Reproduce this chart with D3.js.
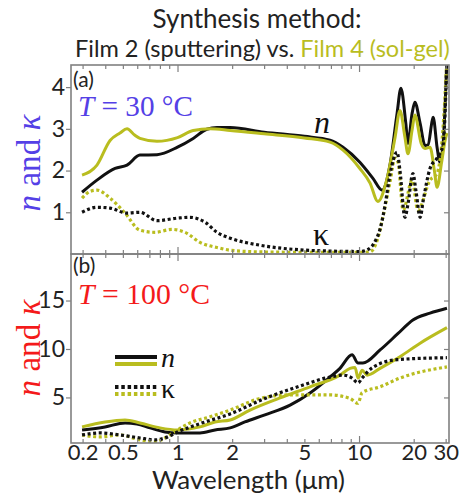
<!DOCTYPE html>
<html><head><meta charset="utf-8">
<script src="https://cdn.jsdelivr.net/npm/d3@7"></script>
<style>body{margin:0;background:#fff}</style>
</head><body>
<svg id="chart" width="460" height="496"></svg>
<script>
// [wavelength (µm), value] pairs
// (a) T = 30 °C
const n30Film2 = [[0.298,1.48],[0.36,1.77],[0.453,2.05],[0.527,2.13],[0.621,2.37],[0.771,2.38],[1.0,2.56],[1.22,2.77],[1.45,2.99],[1.65,3.03],[1.95,3.03],[3.0,2.92],[5.0,2.82],[6.92,2.73],[8.16,2.56],[10.1,2.2],[11.9,1.82],[13.4,1.53],[14.8,2.13],[16.2,3.37],[17.0,3.97],[18.1,3.13],[18.6,2.65],[19.6,3.37],[20.3,3.64],[21.7,3.13],[23.1,2.6],[24.0,2.62],[25.3,3.2],[25.6,3.28],[26.9,2.56],[27.9,2.2],[29.0,2.6],[30.5,4.7]];
const n30Film4 = [[0.298,1.89],[0.36,2.13],[0.425,2.72],[0.482,2.9],[0.527,3.0],[0.58,2.85],[0.621,2.77],[0.771,2.7],[1.0,2.79],[1.22,2.96],[1.51,3.0],[1.95,2.96],[3.0,2.88],[5.0,2.78],[6.92,2.68],[8.16,2.49],[10.1,2.05],[11.5,1.7],[12.7,1.26],[14.2,1.77],[15.8,2.8],[16.8,3.44],[17.9,2.8],[18.6,2.4],[19.6,2.97],[20.3,3.33],[22.0,2.65],[23.1,2.53],[24.6,2.56],[26.0,2.0],[26.9,1.6],[28.5,2.2],[29.8,2.73],[30.5,2.9]];
const k30Film2 = [[0.298,1.0],[0.36,1.12],[0.425,1.1],[0.527,0.98],[0.621,1.0],[0.771,0.8],[1.0,0.86],[1.17,0.88],[1.42,0.76],[1.65,0.52],[1.95,0.38],[2.85,0.21],[4.73,0.1],[6.92,0.07],[10.1,0.06],[11.07,0.1],[12.25,0.3],[13.06,0.6],[13.9,1.16],[14.8,1.9],[16.2,2.44],[16.8,2.0],[17.9,0.88],[18.6,1.2],[19.8,1.93],[20.6,1.5],[21.7,0.88],[22.6,1.3],[24.6,2.05],[26.9,2.3],[29.0,2.6],[30.5,4.7]];
const k30Film4 = [[0.298,1.34],[0.33,1.5],[0.36,1.53],[0.425,1.34],[0.514,0.98],[0.621,0.57],[0.751,0.52],[0.933,0.59],[1.1,0.52],[1.33,0.28],[1.71,0.14],[1.95,0.09],[2.85,0.05],[5.0,0.04],[10.0,0.04],[11.5,0.05],[12.7,0.38],[13.6,0.93],[14.8,1.72],[15.8,2.3],[16.4,2.2],[17.5,1.05],[19.6,1.77],[21.1,1.05],[24.6,1.77],[26.9,1.93],[29.0,3.0],[30.5,4.7]];
// (b) T = 100 °C
const n100Film2 = [[0.298,1.65],[0.399,1.96],[0.514,2.37],[0.598,2.27],[0.706,1.86],[0.853,1.44],[1.0,1.34],[1.33,1.34],[1.61,1.65],[1.95,1.86],[2.35,2.47],[3.03,3.2],[4.17,4.2],[5.37,5.46],[6.92,7.1],[7.85,8.0],[9.15,9.4],[9.87,8.55],[10.5,8.55],[13.06,9.9],[16.4,11.6],[19.8,13.0],[24.6,13.7],[30.5,14.2]];
const n100Film4 = [[0.298,1.96],[0.399,2.47],[0.514,2.68],[0.621,2.37],[0.801,1.86],[1.0,1.65],[1.33,1.96],[1.61,2.47],[1.95,2.68],[2.51,3.7],[3.67,4.95],[5.37,6.1],[7.85,7.3],[8.92,8.0],[9.51,8.1],[9.87,7.0],[10.4,7.8],[11.07,7.3],[13.06,8.0],[16.8,9.2],[21.7,10.6],[30.5,12.2]];
const k100Film2 = [[0.298,1.13],[0.374,1.34],[0.482,1.13],[0.621,0.82],[0.751,0.62],[0.853,0.82],[1.0,1.44],[1.33,2.3],[1.95,3.3],[3.03,4.9],[4.6,6.1],[6.92,7.1],[8.16,7.3],[9.15,7.0],[9.87,6.5],[10.4,7.0],[11.9,8.1],[16.2,8.9],[30.5,9.1]];
const k100Film4 = [[0.298,1.13],[0.374,0.93],[0.482,1.13],[0.621,0.62],[0.751,0.41],[0.853,0.82],[1.0,1.65],[1.17,2.37],[1.51,3.0],[1.95,3.7],[2.85,4.9],[4.17,5.26],[6.92,5.26],[8.92,4.9],[9.87,4.4],[10.4,5.5],[13.06,6.1],[16.8,7.0],[30.5,8.15]];

const xTickValues = [0.3, 0.5, 1, 2, 5, 10, 20, 30];
const xTickLabels = ["0.2", "0.5", "1", "2", "5", "10", "20", "30"];
const xMinorTicks = [0.3,0.4,0.5,0.6,0.7,0.8,0.9,2,3,4,5,6,7,8,9,20,30];
const xMajorTicks = [1, 10];
const yTicks30 = [1, 2, 3, 4];
const yTicks100 = [5, 10, 15];

const OLIVE = "#b9bd1f", BLACK = "#111111", FRAME = "#808080";
const BLUE = "#5440e6", RED = "#f41a1a";
const SANS = "Lato, 'Open Sans', sans-serif";
const SERIF = "'Liberation Serif', 'DejaVu Serif', serif";

const svg = d3.select("#chart");
const x = d3.scaleLog().domain([0.259, 31.3]).range([71, 449]);

const panels = [
  { key: "a", y: d3.scaleLinear().domain([0, 4.53]).range([254, 65]), ticks: yTicks30,
    series: [[n30Film2, BLACK, false], [n30Film4, OLIVE, false], [k30Film4, OLIVE, true], [k30Film2, BLACK, true]] },
  { key: "b", y: d3.scaleLinear().domain([0.3, 19.8]).range([443, 254]), ticks: yTicks100,
    series: [[n100Film2, BLACK, false], [n100Film4, OLIVE, false], [k100Film4, OLIVE, true], [k100Film2, BLACK, true]] }
];

function fit(sel, w) {
  const fs = parseFloat(sel.attr("font-size"));
  const len = sel.node().getComputedTextLength();
  sel.attr("font-size", (fs * w / len).toFixed(2));
  return sel;
}

panels.forEach(p => {
  const [x0, x1] = x.range();
  const [yb, yt] = p.y.range();
  svg.append("clipPath").attr("id", "clip-" + p.key)
    .append("rect").attr("x", x0).attr("y", yt).attr("width", x1 - x0).attr("height", yb - yt);

  const line = d3.line().x(d => x(d[0])).y(d => p.y(d[1])).curve(d3.curveMonotoneX);
  const g = svg.append("g").attr("clip-path", `url(#clip-${p.key})`);
  p.series.forEach(([data, color, dotted]) => {
    g.append("path").datum(data).attr("d", line)
      .attr("fill", "none").attr("stroke", color)
      .attr("stroke-width", dotted ? 3.2 : 3)
      .attr("stroke-dasharray", dotted ? "3,2.6" : null)
      .attr("stroke-linejoin", "round");
  });

  // x ticks, inward on bottom and top
  [[d3.axisBottom, yb], [d3.axisTop, yt]].forEach(([fn, yy]) => {
    const minor = svg.append("g").attr("transform", `translate(0,${yy})`)
      .call(fn(x).tickValues(xMinorTicks).tickSize(-4).tickFormat(""));
    const major = svg.append("g").attr("transform", `translate(0,${yy})`)
      .call(fn(x).tickValues(xMajorTicks).tickSize(-7).tickFormat(""));
    [minor, major].forEach(a => {
      a.select(".domain").remove();
      a.selectAll("line").attr("stroke", FRAME).attr("stroke-width", 1.2);
    });
  });

  // y ticks: outward on the left with labels, inward on the right
  const left = svg.append("g").attr("transform", `translate(${x0},0)`)
    .call(d3.axisLeft(p.y).tickValues(p.ticks).tickSize(5).tickPadding(1).tickFormat(d3.format("d")));
  left.select(".domain").remove();
  left.selectAll("line").attr("stroke", FRAME).attr("stroke-width", 1.2);
  left.selectAll("text").attr("font-family", SANS).attr("font-size", 23).attr("fill", "#222");
  const right = svg.append("g").attr("transform", `translate(${x1},0)`)
    .call(d3.axisRight(p.y).tickValues(p.ticks).tickSize(-5).tickFormat(""));
  right.select(".domain").remove();
  right.selectAll("line").attr("stroke", FRAME).attr("stroke-width", 1.2);

  svg.append("rect").attr("x", x0).attr("y", yt).attr("width", x1 - x0).attr("height", yb - yt)
    .attr("fill", "none").attr("stroke", FRAME).attr("stroke-width", 1.6);
});

// x tick labels
const xl = svg.append("g").attr("transform", "translate(0,443)")
  .call(d3.axisBottom(x).tickValues(xTickValues).tickSize(0).tickPadding(1)
    .tickFormat((d, i) => xTickLabels[i]));
xl.select(".domain").remove();
xl.selectAll("text").attr("font-family", SANS).attr("font-size", 22).attr("fill", "#222");

// titles
fit(svg.append("text").attr("x", 257).attr("y", 28).attr("text-anchor", "middle")
  .attr("font-family", SANS).attr("font-size", 25).attr("fill", "#222")
  .text("Synthesis method:"), 209);
const sub = svg.append("text").attr("x", 75).attr("y", 57)
  .attr("font-family", SANS).attr("font-size", 21).attr("fill", "#222");
sub.append("tspan").text("Film 2 (sputtering) vs. ");
sub.append("tspan").attr("fill", OLIVE).text("Film 4 (sol-gel)");
fit(sub, 375);

svg.append("text").attr("x", 152).attr("y", 489)
  .attr("font-family", SANS).attr("font-size", 25).attr("fill", "#222")
  .attr("textLength", 193).attr("lengthAdjust", "spacingAndGlyphs")
  .text("Wavelength (μm)");

// panel tags
svg.append("text").attr("x", 73).attr("y", 87).attr("font-family", SANS)
  .attr("font-size", 21).attr("fill", "#222").text("(a)");
svg.append("text").attr("x", 73).attr("y", 273).attr("font-family", SANS)
  .attr("font-size", 21).attr("fill", "#222").text("(b)");

// temperatures
function tempLabel(xx, yy, t, color, w) {
  const t0 = svg.append("text").attr("x", xx).attr("y", yy).attr("font-family", SERIF)
    .attr("font-size", 26).attr("fill", color);
  t0.append("tspan").attr("font-style", "italic").text("T");
  t0.append("tspan").text(` = ${t} °C`);
  fit(t0, w);
}
tempLabel(78, 116, 30, BLUE, 115);
tempLabel(78, 304, 100, RED, 132);

// y titles
function yTitle(cx, cy, color) {
  const t0 = svg.append("text").attr("transform", `translate(${cx},${cy}) rotate(-90)`)
    .attr("text-anchor", "middle").attr("font-family", SERIF).attr("font-size", 27).attr("fill", color);
  t0.append("tspan").attr("font-style", "italic").text("n");
  t0.append("tspan").text(" and ");
  t0.append("tspan").attr("font-style", "italic").text("κ");
  fit(t0, 97);
}
yTitle(40, 163, BLUE);
yTitle(40, 348, RED);

// curve labels in (a)
svg.append("text").attr("x", 322).attr("y", 133).attr("text-anchor", "middle")
  .attr("font-family", SERIF).attr("font-style", "italic").attr("font-size", 32).attr("fill", "#111").text("n");
svg.append("text").attr("x", 321).attr("y", 245).attr("text-anchor", "middle")
  .attr("font-family", SERIF).attr("font-size", 32).attr("fill", "#111").text("κ");

// legend in (b)
const leg = svg.append("g");
[[357, BLACK, false], [364, OLIVE, false], [387, BLACK, true], [394, OLIVE, true]].forEach(([yy, c, dotted]) => {
  leg.append("line").attr("x1", 115).attr("x2", 157).attr("y1", yy).attr("y2", yy)
    .attr("stroke", c).attr("stroke-width", 3.8).attr("stroke-dasharray", dotted ? "3.5,2.8" : null);
});
leg.append("text").attr("x", 161).attr("y", 367).attr("font-family", SERIF).attr("font-style", "italic")
  .attr("font-size", 28).attr("fill", "#111").text("n");
leg.append("text").attr("x", 161).attr("y", 398).attr("font-family", SERIF)
  .attr("font-size", 28).attr("fill", "#111").text("κ");
</script>
</body></html>
